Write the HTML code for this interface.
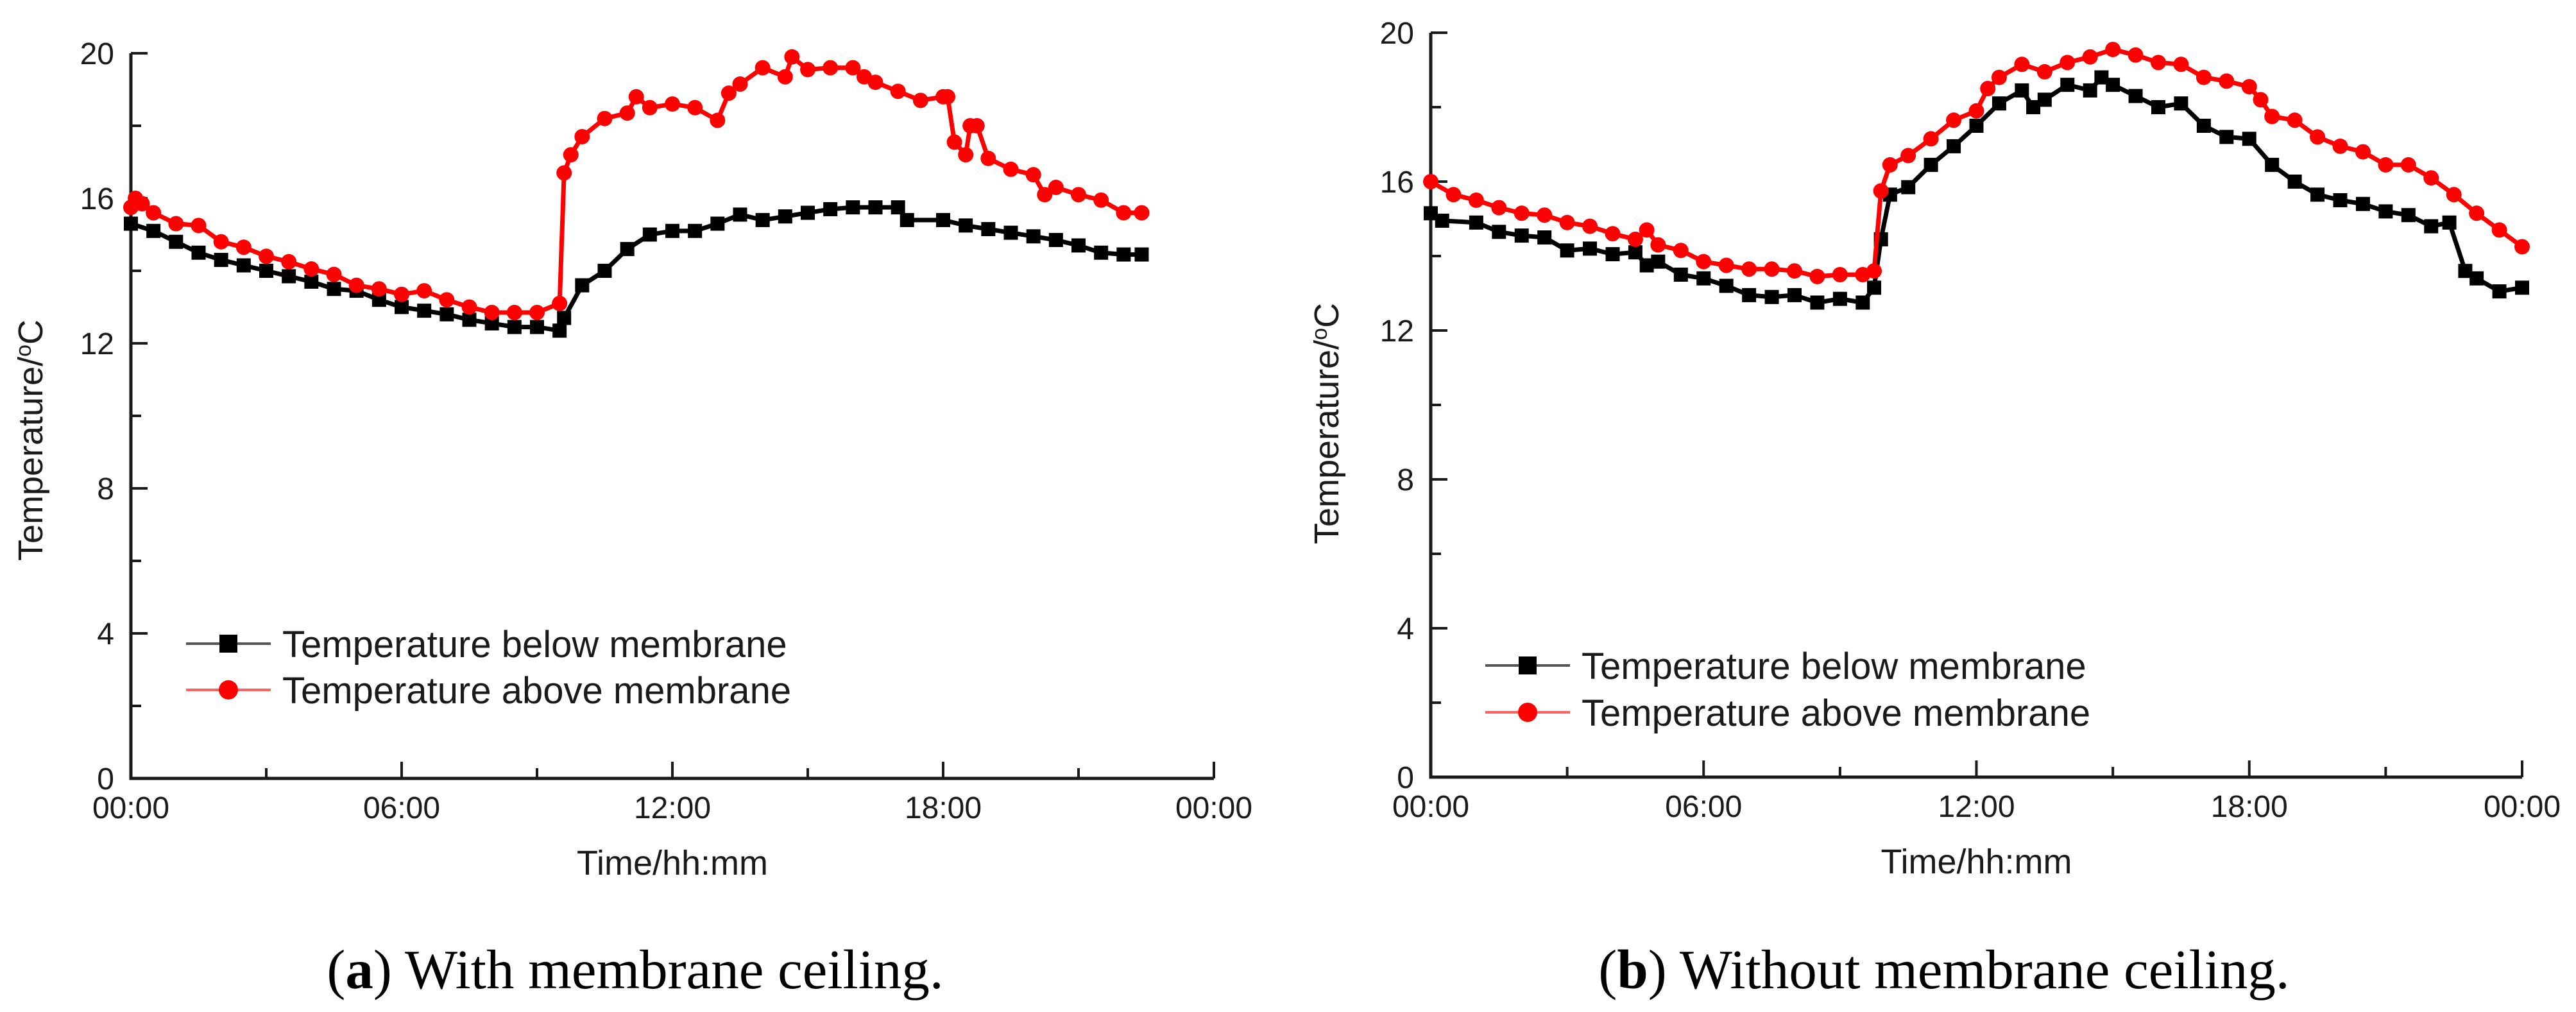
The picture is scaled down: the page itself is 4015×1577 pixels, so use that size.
<!DOCTYPE html>
<html><head><meta charset="utf-8"><style>
html,body{margin:0;padding:0;background:#fff;}
svg{display:block;}
text{font-family:"Liberation Sans",sans-serif;fill:#1a1a1a;}
.cap{font-family:"Liberation Serif",serif;font-size:87px;fill:#000;}
</style></head><body>
<svg id="svg" width="4015" height="1577" viewBox="0 0 4015 1577" xmlns="http://www.w3.org/2000/svg"></svg>
<script>
// ---- data: chart (a) with membrane ceiling ----
const aBelowHours=[0,0.5,1,1.5,2,2.5,3,3.5,4,4.5,5,5.5,6,6.5,7,7.5,8,8.5,9,9.5,9.6,10,10.5,11,11.5,12,12.5,13,13.5,14,14.5,15,15.5,16,16.5,17,17.2,18,18.5,19,19.5,20,20.5,21,21.5,22,22.4];
const aBelowTemps=[15.3,15.1,14.8,14.5,14.3,14.15,14.0,13.85,13.7,13.5,13.45,13.2,13.0,12.9,12.8,12.65,12.55,12.45,12.45,12.35,12.7,13.6,14.0,14.6,15.0,15.1,15.1,15.3,15.55,15.4,15.5,15.6,15.7,15.75,15.75,15.75,15.4,15.4,15.25,15.15,15.05,14.95,14.85,14.7,14.5,14.45,14.45];
const aAboveHours=[0,0.1,0.25,0.5,1,1.5,2,2.5,3,3.5,4,4.5,5,5.5,6,6.5,7,7.5,8,8.5,9,9.5,9.6,9.75,10,10.5,11,11.2,11.5,12,12.5,13,13.25,13.5,14,14.5,14.65,15,15.5,16,16.25,16.5,17,17.5,18,18.1,18.25,18.5,18.6,18.75,19,19.5,20,20.25,20.5,21,21.5,22,22.4];
const aAboveTemps=[15.75,16.0,15.85,15.6,15.3,15.25,14.8,14.65,14.4,14.25,14.05,13.9,13.6,13.5,13.35,13.45,13.2,13.0,12.85,12.85,12.85,13.1,16.7,17.2,17.7,18.2,18.35,18.8,18.5,18.6,18.5,18.15,18.9,19.15,19.6,19.35,19.9,19.55,19.6,19.6,19.35,19.2,18.95,18.7,18.8,18.8,17.55,17.2,18.0,18.0,17.1,16.8,16.65,16.1,16.3,16.1,15.95,15.6,15.6];
// ---- data: chart (b) without membrane ceiling ----
const bBelowHours=[0,0.25,1,1.5,2,2.5,3,3.5,4,4.5,4.75,5,5.5,6,6.5,7,7.5,8,8.5,9,9.5,9.75,9.9,10.1,10.5,11,11.5,12,12.5,13,13.25,13.5,14,14.5,14.75,15,15.5,16,16.5,17,17.5,18,18.5,19,19.5,20,20.5,21,21.5,22,22.4,22.75,23,23.5,24];
const bBelowTemps=[15.15,14.95,14.9,14.65,14.55,14.5,14.15,14.2,14.05,14.1,13.75,13.85,13.5,13.4,13.2,12.95,12.9,12.95,12.75,12.85,12.75,13.15,14.45,15.65,15.85,16.45,16.95,17.5,18.1,18.45,18.0,18.2,18.6,18.45,18.8,18.6,18.3,18.0,18.1,17.5,17.2,17.15,16.45,16.0,15.65,15.5,15.4,15.2,15.1,14.8,14.9,13.6,13.4,13.05,13.15];
const bAboveHours=[0,0.5,1,1.5,2,2.5,3,3.5,4,4.5,4.75,5,5.5,6,6.5,7,7.5,8,8.5,9,9.5,9.75,9.9,10.1,10.5,11,11.5,12,12.25,12.5,13,13.5,14,14.5,15,15.5,16,16.5,17,17.5,18,18.25,18.5,19,19.5,20,20.5,21,21.5,22,22.5,23,23.5,24];
const bAboveTemps=[16.0,15.65,15.5,15.3,15.15,15.1,14.9,14.8,14.6,14.45,14.7,14.3,14.15,13.85,13.75,13.65,13.65,13.6,13.45,13.5,13.5,13.6,15.75,16.45,16.7,17.15,17.65,17.9,18.5,18.8,19.15,18.95,19.2,19.35,19.55,19.4,19.2,19.15,18.8,18.7,18.55,18.2,17.75,17.65,17.2,16.95,16.8,16.45,16.45,16.1,15.65,15.15,14.7,14.25];
const yTicks=[0,4,8,12,16,20];
const xTickLabels=["00:00","06:00","12:00","18:00","00:00"];
const legendLabels=["Temperature below membrane","Temperature above membrane"];

const NS="http://www.w3.org/2000/svg";
const svg=document.getElementById('svg');
function mk(tag,attrs,parent){const e=document.createElementNS(NS,tag);for(const k in attrs)e.setAttribute(k,attrs[k]);(parent||svg).appendChild(e);return e;}

function chart(cfg){
  const g=mk('g',{});
  
  
  const X=h=>cfg.x0+(cfg.x1-cfg.x0)*h/24;
  const Y=v=>cfg.y0+(cfg.y20-cfg.y0)*v/20;
  const ax=mk('path',{d:`M${cfg.x0},${Y(20)} L${cfg.x0},${cfg.y0} L${cfg.x1},${cfg.y0}`,stroke:'#1a1a1a','stroke-width':5,fill:'none'},g);
  
  
  for(let v=0;v<=20;v+=2){
    const major=v%4===0;
    mk('line',{x1:cfg.x0,y1:Y(v),x2:cfg.x0+(major?26:16),y2:Y(v),stroke:'#1a1a1a','stroke-width':4},g);
  }
  yTicks.forEach(v=>{
    const t=mk('text',{x:cfg.x0-26,y:Y(v)+17,'text-anchor':'end','font-size':48},g);
    t.textContent=String(v);
    
    
  });
  for(let h=0;h<=24;h+=3){
    const major=h%6===0;
    mk('line',{x1:X(h),y1:cfg.y0,x2:X(h),y2:cfg.y0-(major?26:16),stroke:'#1a1a1a','stroke-width':4},g);
  }
  xTickLabels.forEach((s,i)=>{
    const t=mk('text',{x:X(i*6),y:cfg.y0+62,'text-anchor':'middle','font-size':48},g);
    t.textContent=s;
    
    
  });
  const yt=mk('text',{x:0,y:0,'text-anchor':'middle','font-size':54,transform:`translate(${cfg.ytx},${cfg.yty}) rotate(-90)`},g);
  yt.innerHTML='Temperature/<tspan dy="-18" font-size="34">o</tspan><tspan dy="18">C</tspan>';
  
  
  const xt=mk('text',{x:X(12),y:cfg.y0+150,'text-anchor':'middle','font-size':54},g);
  xt.textContent='Time/hh:mm';
  
  
  function series(hours,temps,color,shape,name){
    const sg=mk('g',{},g);
    
    
    const d=hours.map((h,i)=>(i?'L':'M')+X(h).toFixed(1)+','+Y(temps[i]).toFixed(1)).join(' ');
    mk('path',{d:d,stroke:color,'stroke-width':7,fill:'none','stroke-linejoin':'round'},sg);
    hours.forEach((h,i)=>{
      let m;
      if(shape==='sq') m=mk('rect',{x:X(h)-11,y:Y(temps[i])-11,width:22,height:22,fill:color},sg);
      else m=mk('circle',{cx:X(h),cy:Y(temps[i]),r:12,fill:color},sg);
      
      
    });
  }
  series(cfg.belowH,cfg.belowT,'#000','sq','series-below-membrane');
  series(cfg.aboveH,cfg.aboveT,'#ff0000','ci','series-above-membrane');
  const lg=mk('g',{},g);
  
  
  [[cfg.legY1,'#555','#000','sq'],[cfg.legY2,'#ff6060','#ff0000','ci']].forEach((r,i)=>{
    mk('line',{x1:cfg.legX,y1:r[0],x2:cfg.legX+132,y2:r[0],stroke:r[1],'stroke-width':4},lg);
    if(r[3]==='sq') mk('rect',{x:cfg.legX+52,y:r[0]-14,width:28,height:28,fill:r[2]},lg);
    else mk('circle',{cx:cfg.legX+66,cy:r[0],r:15,fill:r[2]},lg);
    const t=mk('text',{x:cfg.legX+150,y:r[0]+21,'font-size':58},lg);
    t.textContent=legendLabels[i];
    
    
  });
  const c=mk('text',{x:cfg.capX,y:1540,'text-anchor':'middle',class:'cap'});
  c.innerHTML='(<tspan font-weight="bold">'+cfg.letter+'</tspan>) '+cfg.caption;
  
  
}

chart({name:'chart-a',x0:204,x1:1892,y0:1213,y20:83,ytx:66,yty:686,belowH:aBelowHours,belowT:aBelowTemps,aboveH:aAboveHours,aboveT:aAboveTemps,legX:290,legY1:1003,legY2:1075,capX:990,letter:'a',caption:'With membrane ceiling.'});
chart({name:'chart-b',x0:2230,x1:3931,y0:1211,y20:51,ytx:2086,yty:660,belowH:bBelowHours,belowT:bBelowTemps,aboveH:bAboveHours,aboveT:bAboveTemps,legX:2315,legY1:1037,legY2:1110,capX:3030,letter:'b',caption:'Without membrane ceiling.'});
</script>
</body></html>
